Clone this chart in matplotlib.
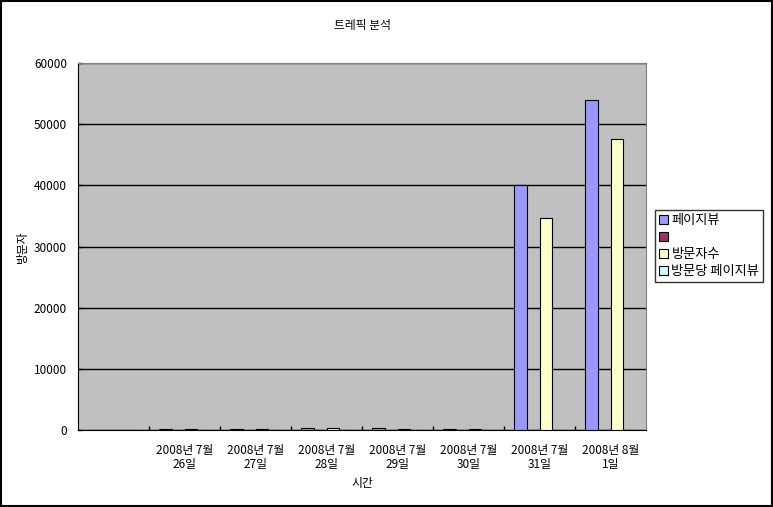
import numpy as np
import matplotlib
matplotlib.use('Agg')
import matplotlib.pyplot as plt
from matplotlib.patches import Patch, Rectangle

plt.rcParams['font.family'] = ['Noto Sans CJK KR', 'DejaVu Sans']

categories = ['', '2008년 7월\n26일', '2008년 7월\n27일', '2008년 7월\n28일',
              '2008년 7월\n29일', '2008년 7월\n30일', '2008년 7월\n31일',
              '2008년 8월\n1일']
pageviews = [0, 120, 110, 350, 320, 110, 40000, 54000]
unnamed = [0, 0, 0, 0, 0, 0, 0, 0]
visitors = [0, 100, 100, 300, 150, 100, 34650, 47500]
pv_per_visit = [0, 1.2, 1.1, 1.2, 2.1, 1.1, 1.15, 1.14]

series = [('페이지뷰', pageviews, '#9999FF'),
          ('', unnamed, '#993366'),
          ('방문자수', visitors, '#FFFFCC'),
          ('방문당 페이지뷰', pv_per_visit, '#CCFFFF')]

W, H = 773, 507
fig = plt.figure(figsize=(W / 100, H / 100), dpi=100)
ax = fig.add_axes([78 / W, 1 - 430 / H, 568 / W, 367 / H])
ax.set_facecolor('#C0C0C0')

fs = 8.5
x = np.arange(len(categories))
w = 1 / 5.5
for i, (name, vals, col) in enumerate(series):
    ax.bar(x + (i - 1.5) * w, vals, width=w, color=col,
           edgecolor='black', linewidth=0.8, zorder=3)

ax.set_xlim(-0.5, len(categories) - 0.5)
ax.set_ylim(0, 60000)
ax.set_yticks(np.arange(0, 60001, 10000))
ax.yaxis.grid(True, color='black', linewidth=1, zorder=1)
ax.set_axisbelow(True)

ax.set_xticks(x)
ax.set_xticklabels(categories, fontsize=fs, linespacing=1.15)
ax.set_xticks(np.arange(0.5, len(categories) - 0.5), minor=True)
ax.tick_params(axis='x', which='major', length=0, pad=10)
ax.tick_params(axis='x', which='minor', length=3, direction='in', width=1)
ax.tick_params(axis='y', length=3, direction='in', width=1, pad=8,
               labelsize=fs)

for s in ['top', 'right']:
    ax.spines[s].set_color('#808080')
ax.spines['left'].set_color('black')
ax.spines['bottom'].set_color('black')

fig.text(362 / W, 1 - 25 / H, '트레픽 분석', ha='center', va='center',
         fontsize=fs)
fig.text(22 / W, 1 - 247 / H, '방문자', ha='center', va='center',
         rotation=90, fontsize=fs)
fig.text(362 / W, 1 - 483 / H, '시간', ha='center', va='center',
         fontsize=fs)

handles = [Patch(facecolor=c, edgecolor='black', linewidth=0.8)
           for _, _, c in series]
labels = [n for n, _, _ in series]
leg = fig.legend(handles, labels, loc='upper left',
                 bbox_to_anchor=(655 / W, 1 - 210 / H), fontsize=9.5,
                 frameon=True, fancybox=False, handlelength=0.65,
                 handleheight=0.65, handletextpad=0.3, labelspacing=0.3,
                 borderpad=0.3, borderaxespad=0)
leg.get_frame().set_edgecolor('black')
leg.get_frame().set_linewidth(1)

fig.patches.append(Rectangle((0.001, 0.001), 0.998, 0.998,
                             transform=fig.transFigure, fill=False,
                             edgecolor='black', linewidth=1.5))

fig.savefig('out.png', dpi=100)
